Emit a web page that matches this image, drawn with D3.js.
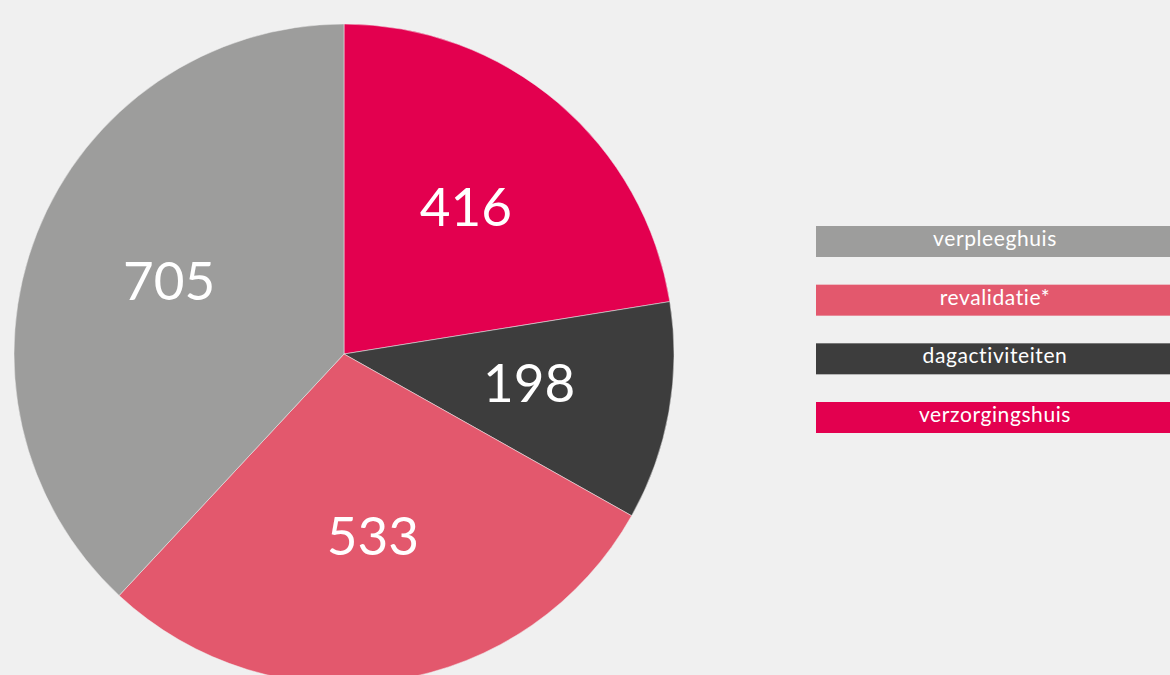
<!DOCTYPE html>
<html>
<head>
<meta charset="utf-8">
<script src="https://cdn.jsdelivr.net/npm/d3@7"></script>
<style>
  html, body { margin: 0; padding: 0; background: #f0f0f0; overflow: hidden; }
</style>
</head>
<body>
<svg id="chart"></svg>
<script>
// pie order (clockwise from 12 o'clock)
const categories = ["verzorgingshuis", "dagactiviteiten", "revalidatie*", "verpleeghuis"];
const values = [416, 198, 533, 705];
const colors = ["#e3004f", "#3d3d3d", "#e3586d", "#9d9d9c"];
// legend order (top to bottom)
const legendOrder = ["verpleeghuis", "revalidatie*", "dagactiviteiten", "verzorgingshuis"];

const width = 1170, height = 675;
const cx = 344, cy = 354, radius = 330;

const svg = d3.select("#chart")
    .attr("width", width)
    .attr("height", height);

const data = categories.map((c, i) => ({ name: c, value: values[i], color: colors[i] }));

const pie = d3.pie().sort(null).value(d => d.value);
const arc = d3.arc().innerRadius(0).outerRadius(radius);
const labelArc = d3.arc().innerRadius(188).outerRadius(188);

const g = svg.append("g").attr("transform", `translate(${cx},${cy})`);

g.selectAll(".slice")
    .data(pie(data))
    .enter().append("path")
    .attr("class", "slice")
    .attr("d", arc)
    .attr("fill", d => d.data.color)
    .attr("stroke", "#f0f0f0")
    .attr("stroke-width", 0.5);

g.selectAll(".label")
    .data(pie(data))
    .enter().append("text")
    .attr("class", "label")
    .attr("transform", d => `translate(${labelArc.centroid(d)})`)
    .attr("text-anchor", "middle")
    .attr("dy", "0.28em")
    .style("font-family", "Lato, sans-serif")
    .style("font-size", "53px")
    .style("fill", "#fff")
    .text(d => d.data.value);

// legend
const colorOf = new Map(data.map(d => [d.name, d.color]));
const legendX = 816, legendW = width - 816, legendH = 31;
const yLegend = d3.scalePoint().domain(legendOrder).range([226, 402]);

const leg = svg.selectAll(".legend")
    .data(legendOrder)
    .enter().append("g")
    .attr("class", "legend")
    .attr("transform", d => `translate(${legendX},${yLegend(d)})`);

leg.append("rect")
    .attr("width", legendW)
    .attr("height", legendH)
    .attr("fill", d => colorOf.get(d));

leg.append("text")
    .attr("x", legendW / 2 + 2)
    .attr("y", legendH / 2)
    .attr("dy", "0.22em")
    .attr("text-anchor", "middle")
    .style("font-family", "Lato, sans-serif")
    .style("font-size", "21px")
    .style("letter-spacing", "0.6px")
    .style("fill", "#fff")
    .text(d => d);
</script>
</body>
</html>
